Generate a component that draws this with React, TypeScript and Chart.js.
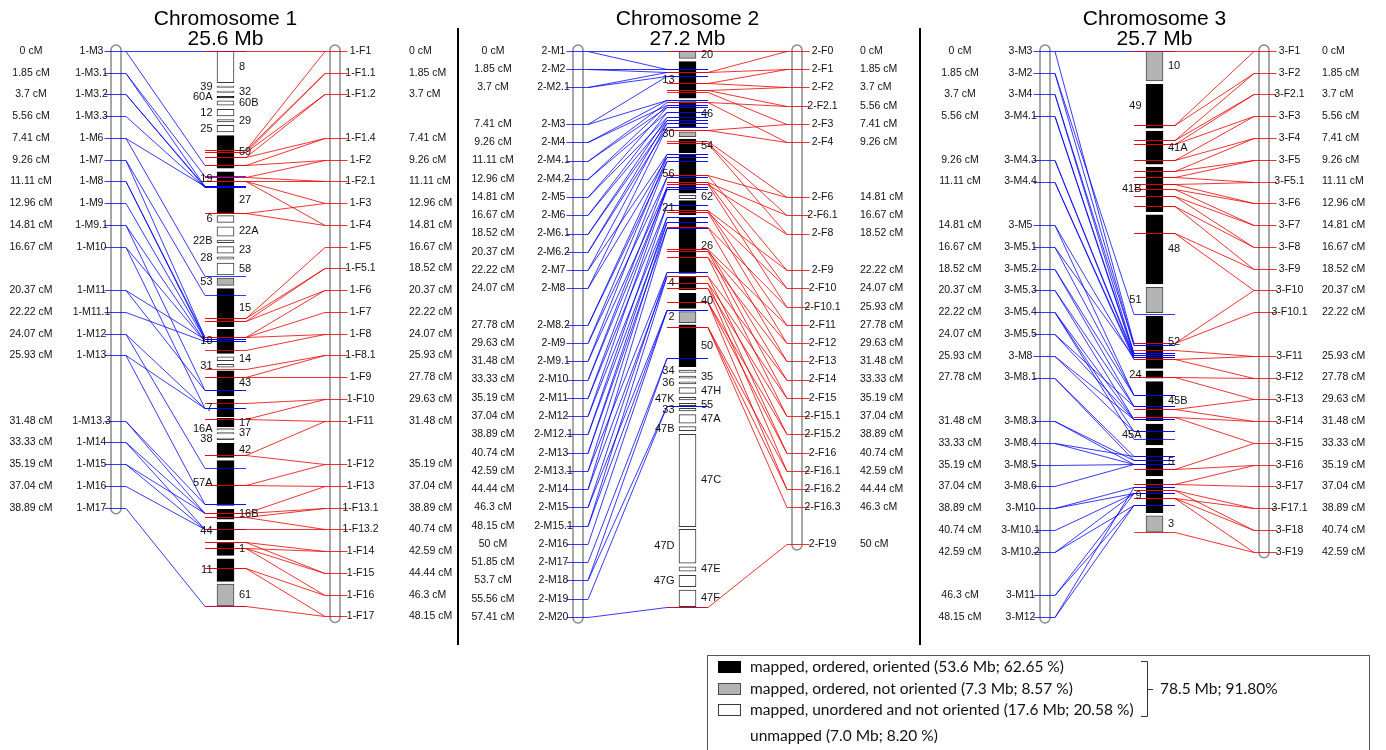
import React, { useEffect, useRef } from "react";
import { Chart, registerables } from "chart.js";

Chart.register(...registerables);

// ---------------- DATA ----------------
const chromosomeTitles = ["Chromosome 1", "Chromosome 2", "Chromosome 3"];
const chromosomeLengthsMb = [25.6, 27.2, 25.7];
const cmAxisMax = [48.2, 57.41, 48.15];
const mbAxisMax = [26.06, 27.69, 30.18];

// Chromosome 1 - male map
const chr1MaleNames = ["1-M3", "1-M3.1", "1-M3.2", "1-M3.3", "1-M6", "1-M7", "1-M8", "1-M9", "1-M9.1", "1-M10", "1-M11", "1-M11.1", "1-M12", "1-M13", "1-M13.3", "1-M14", "1-M15", "1-M16", "1-M17"];
const chr1MaleCM = [0, 1.85, 3.7, 5.56, 7.41, 9.26, 11.11, 12.96, 14.81, 16.67, 20.37, 22.22, 24.07, 25.93, 31.48, 33.33, 35.19, 37.04, 38.89];
const chr1MaleHitsMb = [[0, 5.25], [6.2, 5.74], [6.2, 6.28], [6.28], [6.2, 10.36], [11.25, 13.15], [13.15, 13.25], [13.25], [13.34, 15.61], [13.34, 16.45], [13.25, 15.61], [13.34], [16.45, 19.21], [16.45, 20.84], [20.84, 21.29], [21.29, 22.02], [22.02, 21.29], [22.02], [25.55]];
// Chromosome 1 - female map
const chr1FemaleNames = ["1-F1", "1-F1.1", "1-F1.2", "1-F1.4", "1-F2", "1-F2.1", "1-F3", "1-F4", "1-F5", "1-F5.1", "1-F6", "1-F7", "1-F8", "1-F8.1", "1-F9", "1-F10", "1-F11", "1-F12", "1-F13", "1-F13.1", "1-F13.2", "1-F14", "1-F15", "1-F16", "1-F17"];
const chr1FemaleCM = [0, 1.85, 3.7, 7.41, 9.26, 11.11, 12.96, 14.81, 16.67, 18.52, 20.37, 22.22, 24.07, 25.93, 27.78, 29.63, 31.48, 35.19, 37.04, 38.89, 40.74, 42.59, 44.44, 46.3, 48.15];
const chr1FemaleHitsMb = [[0, 4.56], [4.56, 4.66], [4.66, 4.89], [4.89, 5.25], [5.25, 5.82], [6.0, 5.82], [6.0, 7.47], [6.0, 7.47], [12.28], [12.28, 12.43], [12.43, 13.18], [13.18], [13.18, 13.77], [14.66, 15.0], [15.0], [16.22, 16.96], [16.96, 18.62], [18.62, 19.97], [19.97, 21.29], [21.29, 21.44], [21.99, 21.44], [22.59, 22.87], [22.59, 22.87], [22.87, 23.82], [23.82, 25.55]];
// Chromosome 1 - scaffolds (O = ordered+oriented, N = ordered not oriented, U = unordered)
const chr1ScafNames = ["8", "39", "32", "60A", "60B", "12", "29", "25", "59", "19", "27", "6", "22A", "22B", "23", "28", "58", "53", "15", "18", "14", "31", "43", "7", "17", "16A", "37", "38", "42", "57A", "16B", "44", "1", "11", "61"];
const chr1ScafStart = [0, 1.61, 1.84, 2.09, 2.29, 2.68, 3.16, 3.42, 3.9, 5.56, 6.26, 7.58, 8.09, 8.7, 9.01, 9.48, 9.77, 10.45, 10.94, 12.81, 14.08, 14.43, 14.72, 16.04, 16.91, 17.38, 17.57, 17.82, 18.06, 18.86, 21.1, 21.69, 22.62, 23.38, 24.54];
const chr1ScafEnd = [1.46, 1.68, 1.91, 2.16, 2.49, 2.99, 3.27, 3.73, 5.4, 6.22, 7.45, 7.89, 8.52, 8.83, 9.31, 9.59, 10.31, 10.79, 12.69, 13.92, 14.26, 14.56, 15.88, 16.84, 17.3, 17.45, 17.63, 17.89, 18.71, 20.92, 21.56, 22.51, 23.22, 24.42, 25.55];
const chr1ScafType = ["U", "N", "N", "O", "U", "U", "U", "U", "O", "O", "O", "U", "U", "U", "U", "U", "U", "N", "O", "O", "U", "U", "O", "O", "O", "N", "N", "N", "O", "O", "O", "O", "O", "O", "N"];

// Chromosome 2 - male map
const chr2MaleNames = ["2-M1", "2-M2", "2-M2.1", "2-M3", "2-M4", "2-M4.1", "2-M4.2", "2-M5", "2-M6", "2-M6.1", "2-M6.2", "2-M7", "2-M8", "2-M8.2", "2-M9", "2-M9.1", "2-M10", "2-M11", "2-M12", "2-M12.1", "2-M13", "2-M13.1", "2-M14", "2-M15", "2-M15.1", "2-M16", "2-M17", "2-M18", "2-M19", "2-M20"];
const chr2MaleCM = [0, 1.85, 3.7, 7.41, 9.26, 11.11, 12.96, 14.81, 16.67, 18.52, 20.37, 22.22, 24.07, 27.78, 29.63, 31.48, 33.33, 35.19, 37.04, 38.89, 40.74, 42.59, 44.44, 46.3, 48.15, 50, 51.85, 53.7, 55.56, 57.41];
const chr2MaleHitsMb = [[0, 0.9], [0.9, 1.03], [1.03, 1.22], [1.22, 2.4], [2.4, 2.64], [2.48, 2.72], [2.64, 2.97], [2.72, 3.24], [2.97, 3.38], [3.24, 3.54], [3.38, 3.72], [3.54, 5.05], [3.72, 5.2], [5.05, 5.37], [5.2, 6.15], [5.37, 6.64], [6.15, 6.77], [6.64, 7.53], [6.77, 8.11], [7.53, 8.35], [8.11, 8.67], [8.35, 10.8], [8.67, 11.01], [10.8, 12.67], [11.01, 12.67], [12.67], [15.03], [15.03, 17.37], [17.37], [27.18]];
// Chromosome 2 - female map
const chr2FemaleNames = ["2-F0", "2-F1", "2-F2", "2-F2.1", "2-F3", "2-F4", "2-F6", "2-F6.1", "2-F8", "2-F9", "2-F10", "2-F10.1", "2-F11", "2-F12", "2-F13", "2-F14", "2-F15", "2-F15.1", "2-F15.2", "2-F16", "2-F16.1", "2-F16.2", "2-F16.3", "2-F19"];
const chr2FemaleCM = [0, 1.85, 3.7, 5.56, 7.41, 9.26, 14.81, 16.67, 18.52, 22.22, 24.07, 25.93, 27.78, 29.63, 31.48, 33.33, 35.19, 37.04, 38.89, 40.74, 42.59, 44.44, 46.3, 50];
const chr2FemaleHitsMb = [[0, 1.01], [1.01, 1.55], [1.55, 1.91], [1.91, 2.48], [1.99, 3.86], [2.48, 3.86], [4.39, 6.07], [4.52, 6.39], [4.52, 6.51], [6.07, 7.78], [6.39, 7.86], [6.51, 8.6], [7.78, 9.69], [7.86, 9.77], [8.6, 10.06], [9.69, 11.01], [9.77, 11.36], [10.06, 11.61], [11.01, 12.26], [11.36, 12.26], [11.61, 13.49], [12.26, 13.49], [13.49], [27.18]];
// Chromosome 2 - scaffolds
const chr2ScafNames = ["20", "13", "46", "30", "54", "56", "62", "21", "26", "4", "40", "2", "50", "34", "35", "36", "47H", "47K", "55", "33", "47A", "47B", "47C", "47D", "47E", "47G", "47F"];
const chr2ScafStart = [0, 0.52, 2.48, 3.95, 4.31, 5.09, 7.06, 7.32, 8.18, 11.04, 11.85, 12.75, 13.4, 15.61, 15.9, 16.18, 16.47, 16.94, 17.24, 17.48, 17.79, 18.38, 18.75, 23.4, 25.23, 25.65, 26.37];
const chr2ScafEnd = [0.36, 2.31, 3.73, 4.19, 4.99, 6.95, 7.23, 8.02, 10.88, 11.69, 12.59, 13.29, 15.44, 15.72, 16.01, 16.29, 16.75, 17.07, 17.35, 17.61, 18.21, 18.57, 23.27, 25.06, 25.45, 26.21, 27.18];
const chr2ScafType = ["N", "O", "O", "N", "O", "O", "U", "O", "O", "O", "O", "N", "O", "U", "U", "U", "U", "U", "U", "U", "U", "U", "U", "U", "U", "U", "U"];

// Chromosome 3 - male map
const chr3MaleNames = ["3-M3", "3-M2", "3-M4", "3-M4.1", "3-M4.3", "3-M4.4", "3-M5", "3-M5.1", "3-M5.2", "3-M5.3", "3-M5.4", "3-M5.5", "3-M8", "3-M8.1", "3-M8.3", "3-M8.4", "3-M8.5", "3-M8.6", "3-M10", "3-M10.1", "3-M10.2", "3-M11", "3-M12"];
const chr3MaleCM = [0, 1.85, 3.7, 5.56, 9.26, 11.11, 14.81, 16.67, 18.52, 20.37, 22.22, 24.07, 25.93, 27.78, 31.48, 33.33, 35.19, 37.04, 38.89, 40.74, 42.59, 46.3, 48.15];
const chr3MaleHitsMb = [[0, 15.55], [14.04, 15.68], [15.68, 16.12], [16.12, 16.21], [16.21, 16.33], [16.33, 16.44], [16.44, 18.34], [16.33, 18.34], [18.34, 18.93], [18.93, 19.62], [19.62, 20.26, 20.7], [18.93, 19.62], [19.62, 20.26], [21.59, 21.81], [21.81, 22.04], [22.04, 21.59], [22.04], [22.04], [23.23, 23.58], [23.58], [23.58, 24.21], [24.21, 23.58], [24.21, 23.23]];
// Chromosome 3 - female map
const chr3FemaleNames = ["3-F1", "3-F2", "3-F2.1", "3-F3", "3-F4", "3-F5", "3-F5.1", "3-F6", "3-F7", "3-F8", "3-F9", "3-F10", "3-F10.1", "3-F11", "3-F12", "3-F13", "3-F14", "3-F15", "3-F16", "3-F17", "3-F17.1", "3-F18", "3-F19"];
const chr3FemaleCM = [0, 1.85, 3.7, 5.56, 7.41, 9.26, 11.11, 12.96, 14.81, 16.67, 18.52, 20.37, 22.22, 25.93, 27.78, 29.63, 31.48, 33.33, 35.19, 37.04, 38.89, 40.74, 42.59];
const chr3FemaleHitsMb = [[0, 3.95], [3.95, 4.75], [4.75, 4.96], [4.96, 5.81], [5.81, 6.38], [6.38, 6.73], [7.09, 6.73], [7.09, 7.36], [7.36, 7.73], [7.73, 8.26], [8.26, 9.69], [9.69, 15.55], [15.55], [15.94, 16.44], [16.44, 17.37], [17.37, 19.09], [19.5, 19.09], [19.5, 22.3], [22.3, 23.1], [23.1], [23.41, 23.85], [23.41, 23.85], [23.85, 25.66]];
// Chromosome 3 - scaffolds
const chr3ScafNames = ["10", "49", "41A", "41B", "48", "51", "52", "24", "45B", "45A", "5", "9", "3"];
const chr3ScafStart = [0, 1.78, 4.27, 6.19, 8.73, 12.6, 14.13, 17.06, 17.63, 19.89, 21.18, 22.84, 24.78];
const chr3ScafEnd = [1.6, 4.12, 6.03, 8.57, 12.42, 13.95, 16.92, 17.45, 19.71, 21.01, 22.66, 24.62, 25.66];
const chr3ScafType = ["N", "O", "O", "O", "O", "N", "O", "O", "O", "O", "O", "O", "N"];

// Legend
const legendTypes = ["O", "N", "U"];
const legendLabels = [
  "mapped, ordered, oriented (53.6 Mb; 62.65 %)",
  "mapped, ordered, not oriented (7.3 Mb; 8.57 %)",
  "mapped, unordered and not oriented (17.6 Mb; 20.58 %)",
];
const legendMappedTotal = "78.5 Mb; 91.80%";
const legendUnmapped = "unmapped (7.0 Mb; 8.20 %)";

// ---------------- STYLE / LAYOUT ----------------
const columnX = [225.5, 687.5, 1154.5];
const femaleCmLabelX = [409, 860, 1322];
const separatorX = [458, 920];
const FONT = "'Liberation Sans', Arial, Helvetica, sans-serif";
const LEGEND_FONT = "15.5px Lato, 'Open Sans', sans-serif";
const MALE_COLOR = "rgba(0,0,255,0.78)";
const FEMALE_COLOR = "rgba(235,0,0,0.8)";
const FILL: Record<string, string> = { O: "#000000", N: "#b3b3b3", U: "#ffffff" };
const BORDER: Record<string, string> = { O: "#000000", N: "#4a4a4a", U: "#3a3a3a" };

const chromosomes = [
  { title: chromosomeTitles[0], length: chromosomeLengthsMb[0], maleNames: chr1MaleNames, maleCM: chr1MaleCM, maleHits: chr1MaleHitsMb, femaleNames: chr1FemaleNames, femaleCM: chr1FemaleCM, femaleHits: chr1FemaleHitsMb, scafNames: chr1ScafNames, scafStart: chr1ScafStart, scafEnd: chr1ScafEnd, scafType: chr1ScafType },
  { title: chromosomeTitles[1], length: chromosomeLengthsMb[1], maleNames: chr2MaleNames, maleCM: chr2MaleCM, maleHits: chr2MaleHitsMb, femaleNames: chr2FemaleNames, femaleCM: chr2FemaleCM, femaleHits: chr2FemaleHitsMb, scafNames: chr2ScafNames, scafStart: chr2ScafStart, scafEnd: chr2ScafEnd, scafType: chr2ScafType },
  { title: chromosomeTitles[2], length: chromosomeLengthsMb[2], maleNames: chr3MaleNames, maleCM: chr3MaleCM, maleHits: chr3MaleHitsMb, femaleNames: chr3FemaleNames, femaleCM: chr3FemaleCM, femaleHits: chr3FemaleHitsMb, scafNames: chr3ScafNames, scafStart: chr3ScafStart, scafEnd: chr3ScafEnd, scafType: chr3ScafType },
];

const snap = (v: number) => Math.round(v) + 0.5;

function capsule(ctx: CanvasRenderingContext2D, x: number, y: number, w: number, h: number) {
  const r = w / 2;
  ctx.beginPath();
  ctx.moveTo(x, y + r);
  ctx.arc(x + r, y + r, r, Math.PI, 0);
  ctx.lineTo(x + w, y + h - r);
  ctx.arc(x + r, y + h - r, r, 0, Math.PI);
  ctx.closePath();
  ctx.fillStyle = "#ffffff";
  ctx.fill();
  ctx.strokeStyle = "#8a8a8a";
  ctx.lineWidth = 1.5;
  ctx.stroke();
}

const mapPlugin = {
  id: "geneticMap",
  beforeDatasetsDraw(chart: any) {
    const ctx: CanvasRenderingContext2D = chart.ctx;
    const xs = chart.scales.x;
    ctx.save();
    chromosomes.forEach((c, k) => {
      const S = columnX[k];
      const cm = chart.scales[`cm${k + 1}`];
      ctx.fillStyle = "#000";
      ctx.font = `21px ${FONT}`;
      ctx.textAlign = "center";
      ctx.textBaseline = "alphabetic";
      ctx.fillText(c.title, xs.getPixelForValue(S), 25);
      ctx.fillText(`${c.length} Mb`, xs.getPixelForValue(S), 45);
      const mTop = cm.getPixelForValue(0) - 6;
      const mBot = cm.getPixelForValue(Math.max(...c.maleCM)) + 6;
      capsule(ctx, xs.getPixelForValue(S - 114.5), mTop, 10, mBot - mTop);
      const fTop = cm.getPixelForValue(0) - 6;
      const fBot = cm.getPixelForValue(Math.max(...c.femaleCM)) + 6;
      capsule(ctx, xs.getPixelForValue(S + 104.5), fTop, 10, fBot - fTop);
    });
    ctx.strokeStyle = "#000";
    ctx.lineWidth = 2;
    separatorX.forEach((x) => {
      ctx.beginPath();
      ctx.moveTo(xs.getPixelForValue(x), 28);
      ctx.lineTo(xs.getPixelForValue(x), 645);
      ctx.stroke();
    });
    ctx.restore();
  },
  afterDatasetsDraw(chart: any) {
    const ctx: CanvasRenderingContext2D = chart.ctx;
    const xs = chart.scales.x;
    const X = (v: number) => xs.getPixelForValue(v);
    ctx.save();
    ctx.lineWidth = 1;
    chromosomes.forEach((c, k) => {
      const S = columnX[k];
      const cm = chart.scales[`cm${k + 1}`];
      const mb = chart.scales[`mb${k + 1}`];
      // male connections
      ctx.strokeStyle = MALE_COLOR;
      c.maleCM.forEach((v, i) => {
        const y0 = snap(cm.getPixelForValue(v));
        ctx.beginPath();
        ctx.moveTo(X(S - 121), y0);
        ctx.lineTo(X(S - 99.5), y0);
        ctx.stroke();
        c.maleHits[i].forEach((m) => {
          const y1 = snap(mb.getPixelForValue(m));
          ctx.beginPath();
          ctx.moveTo(X(S - 99.5), y0);
          ctx.lineTo(X(S - 20.5), y1);
          ctx.lineTo(X(S + 20.5), y1);
          ctx.stroke();
        });
      });
      // female connections
      ctx.strokeStyle = FEMALE_COLOR;
      c.femaleCM.forEach((v, i) => {
        const y0 = snap(cm.getPixelForValue(v));
        c.femaleHits[i].forEach((m) => {
          const y1 = snap(mb.getPixelForValue(m));
          ctx.beginPath();
          ctx.moveTo(X(S - 20.5), y1);
          ctx.lineTo(X(S + 20.5), y1);
          ctx.lineTo(X(S + 99.5), y0);
          ctx.stroke();
        });
        ctx.beginPath();
        ctx.moveTo(X(S + 99.5), y0);
        ctx.lineTo(X(S + 122), y0);
        ctx.stroke();
      });
      // marker labels
      ctx.fillStyle = "#111";
      ctx.font = `10.5px ${FONT}`;
      ctx.textBaseline = "middle";
      c.maleCM.forEach((v, i) => {
        const y = cm.getPixelForValue(v);
        ctx.textAlign = "center";
        ctx.fillText(`${v} cM`, X(S - 194.5), y);
        ctx.fillText(c.maleNames[i], X(S - 134), y);
      });
      c.femaleCM.forEach((v, i) => {
        const y = cm.getPixelForValue(v);
        ctx.textAlign = "center";
        ctx.fillText(c.femaleNames[i], X(S + 135), y);
        ctx.textAlign = "left";
        ctx.fillText(`${v} cM`, X(femaleCmLabelX[k]), y);
      });
      // scaffold labels
      ctx.font = `11px ${FONT}`;
      c.scafNames.forEach((n, i) => {
        const y = mb.getPixelForValue((c.scafStart[i] + c.scafEnd[i]) / 2);
        if (i % 2 === 0) {
          ctx.textAlign = "left";
          ctx.fillText(n, X(S + 13.5), y);
        } else {
          ctx.textAlign = "right";
          ctx.fillText(n, X(S - 13), y);
        }
      });
    });
    ctx.restore();
  },
  afterDraw(chart: any) {
    const ctx: CanvasRenderingContext2D = chart.ctx;
    ctx.save();
    ctx.strokeStyle = "#555";
    ctx.lineWidth = 1;
    ctx.strokeRect(707.5, 655.5, 662, 120);
    const rows = [667, 689, 710];
    ctx.font = LEGEND_FONT;
    ctx.textBaseline = "middle";
    ctx.textAlign = "left";
    legendTypes.forEach((t, i) => {
      ctx.fillStyle = FILL[t];
      ctx.fillRect(718.5, rows[i] - 6, 22, 12);
      ctx.strokeStyle = BORDER[t];
      ctx.strokeRect(718.5, rows[i] - 5.5, 22, 11);
      ctx.fillStyle = "#111";
      ctx.fillText(legendLabels[i], 750, rows[i]);
    });
    ctx.fillText(legendUnmapped, 750, 736);
    ctx.strokeStyle = "#333";
    ctx.beginPath();
    ctx.moveTo(1141, 661.5);
    ctx.lineTo(1147.5, 661.5);
    ctx.lineTo(1147.5, 716.5);
    ctx.lineTo(1141, 716.5);
    ctx.moveTo(1147.5, 689.5);
    ctx.lineTo(1153, 689.5);
    ctx.stroke();
    ctx.fillText(legendMappedTotal, 1160, 689);
    ctx.restore();
  },
};

export default function App() {
  const ref = useRef<HTMLCanvasElement | null>(null);
  useEffect(() => {
    document.body.style.margin = "0";
    const scales: any = {
      x: { type: "linear", min: 0, max: 1386, display: false, offset: false, grid: { offset: false } },
    };
    chromosomes.forEach((_, k) => {
      scales[`cm${k + 1}`] = { type: "linear", axis: "y", position: "left", reverse: true, min: 0, max: cmAxisMax[k], display: false };
      scales[`mb${k + 1}`] = { type: "linear", axis: "y", position: "left", reverse: true, min: 0, max: mbAxisMax[k], display: false };
    });
    const datasets = chromosomes.map((c, k) => ({
      type: "bar" as const,
      label: c.title,
      xAxisID: "x",
      yAxisID: `mb${k + 1}`,
      data: c.scafNames.map((_, i) => ({ x: columnX[k], y: [c.scafStart[i], c.scafEnd[i]] })),
      backgroundColor: c.scafType.map((t) => FILL[t]),
      borderColor: c.scafType.map((t) => BORDER[t]),
      borderWidth: 1,
      borderSkipped: false,
      barThickness: 17,
      grouped: false,
    }));
    const chart = new Chart(ref.current as HTMLCanvasElement, {
      type: "bar",
      data: { datasets: datasets as any },
      options: {
        responsive: false,
        animation: false,
        devicePixelRatio: 1,
        layout: { padding: { top: 51, bottom: 133, left: 0, right: 0 } },
        scales,
        plugins: { legend: { display: false }, tooltip: { enabled: false }, title: { display: false } },
        events: [],
      },
      plugins: [mapPlugin],
    } as any);
    return () => chart.destroy();
  }, []);
  return <canvas ref={ref} width={1386} height={750} style={{ display: "block", width: 1386, height: 750 }} />;
}
